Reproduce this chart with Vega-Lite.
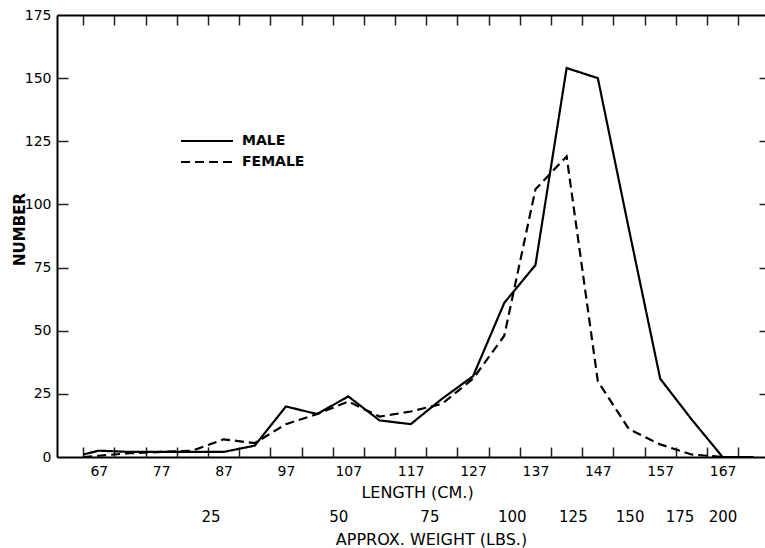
{
  "$schema": "https://vega.github.io/schema/vega-lite/v6.json",
  "autosize": {"type": "none"},
  "padding": {"left": 57, "top": 15, "right": 0, "bottom": 91},
  "width": 708,
  "height": 442,
  "background": "white",
  "config": {
    "view": {"stroke": null},
    "axis": {"grid": false, "labelColor": "black", "titleColor": "black", "tickColor": "black", "domainColor": "black", "labelFont": "DejaVu Sans", "titleFont": "DejaVu Sans"},
    "legend": {"labelColor": "black"}
  },
  "data": {
    "values": [
      {"cm": 64.5, "n": 1, "sex": "MALE"},
      {"cm": 67, "n": 2.5, "sex": "MALE"},
      {"cm": 72, "n": 2, "sex": "MALE"},
      {"cm": 77, "n": 2, "sex": "MALE"},
      {"cm": 82, "n": 2, "sex": "MALE"},
      {"cm": 87, "n": 2, "sex": "MALE"},
      {"cm": 92, "n": 4.5, "sex": "MALE"},
      {"cm": 97, "n": 20, "sex": "MALE"},
      {"cm": 102, "n": 17, "sex": "MALE"},
      {"cm": 107, "n": 24, "sex": "MALE"},
      {"cm": 112, "n": 14.5, "sex": "MALE"},
      {"cm": 117, "n": 13, "sex": "MALE"},
      {"cm": 122, "n": 23, "sex": "MALE"},
      {"cm": 127, "n": 32, "sex": "MALE"},
      {"cm": 132, "n": 61, "sex": "MALE"},
      {"cm": 137, "n": 76, "sex": "MALE"},
      {"cm": 142, "n": 154, "sex": "MALE"},
      {"cm": 147, "n": 150, "sex": "MALE"},
      {"cm": 152, "n": 90, "sex": "MALE"},
      {"cm": 157, "n": 31, "sex": "MALE"},
      {"cm": 162, "n": 15, "sex": "MALE"},
      {"cm": 167, "n": 0, "sex": "MALE"},
      {"cm": 172, "n": 0, "sex": "MALE"},
      {"cm": 64.5, "n": 0, "sex": "FEMALE"},
      {"cm": 67, "n": 0.5, "sex": "FEMALE"},
      {"cm": 72, "n": 1.5, "sex": "FEMALE"},
      {"cm": 77, "n": 2, "sex": "FEMALE"},
      {"cm": 82, "n": 2.5, "sex": "FEMALE"},
      {"cm": 87, "n": 7, "sex": "FEMALE"},
      {"cm": 92, "n": 5.5, "sex": "FEMALE"},
      {"cm": 97, "n": 13, "sex": "FEMALE"},
      {"cm": 102, "n": 17, "sex": "FEMALE"},
      {"cm": 107, "n": 22, "sex": "FEMALE"},
      {"cm": 112, "n": 16, "sex": "FEMALE"},
      {"cm": 117, "n": 18, "sex": "FEMALE"},
      {"cm": 122, "n": 21, "sex": "FEMALE"},
      {"cm": 127, "n": 31, "sex": "FEMALE"},
      {"cm": 132, "n": 48, "sex": "FEMALE"},
      {"cm": 137, "n": 106, "sex": "FEMALE"},
      {"cm": 142, "n": 119, "sex": "FEMALE"},
      {"cm": 147, "n": 30, "sex": "FEMALE"},
      {"cm": 152, "n": 11, "sex": "FEMALE"},
      {"cm": 157, "n": 5, "sex": "FEMALE"},
      {"cm": 162, "n": 1, "sex": "FEMALE"},
      {"cm": 167, "n": 0, "sex": "FEMALE"},
      {"cm": 172, "n": 0, "sex": "FEMALE"}
    ]
  },
  "resolve": {"axis": {"x": "independent", "y": "independent"}},
  "layer": [
    {
      "mark": {"type": "line", "color": "black", "strokeWidth": 2.2},
      "encoding": {
        "x": {"field": "cm", "type": "quantitative",
              "scale": {"domain": [60.3, 173.8], "nice": false, "zero": false},
              "axis": {"orient": "bottom", "values": [67, 77, 87, 97, 107, 117, 127, 137, 147, 157, 167], "ticks": false, "domain": true, "domainWidth": 2, "labelFontSize": 14, "labelPadding": 7, "labelFlush": false, "labelOverlap": false, "title": "LENGTH (CM.)", "titleFontSize": 16, "titleFontWeight": "normal", "titleX": 360, "titleY": 40, "titleBaseline": "alphabetic"}},
        "y": {"field": "n", "type": "quantitative",
              "scale": {"domain": [0, 175], "nice": false},
              "axis": {"orient": "left", "values": [0, 25, 50, 75, 100, 125, 150, 175], "ticks": false, "domain": true, "domainWidth": 2, "labelFontSize": 14, "labelPadding": 6, "labelFlush": false, "labelOverlap": false, "title": "NUMBER", "titleFontSize": 15, "titleFontWeight": "bold", "titleX": -33, "titleY": 214, "titleAngle": 270, "titleBaseline": "alphabetic", "titleAlign": "center"}},
        "strokeDash": {"field": "sex", "type": "nominal",
              "scale": {"domain": ["MALE", "FEMALE"], "range": [[1, 0], [9, 5]]},
              "legend": {"orient": "none", "legendX": 143, "legendY": 119, "title": null, "padding": 0, "symbolType": "M-5,0H5", "symbolSize": 108, "symbolStrokeWidth": 2, "symbolStrokeColor": "black", "symbolFillColor": "transparent", "labelFont": "DejaVu Sans", "labelFontWeight": "bold", "labelFontSize": 14, "labelOffset": 28, "rowPadding": 7}}
      }
    },
    {
      "mark": {"type": "point", "opacity": 0},
      "encoding": {
        "x": {"field": "cm", "type": "quantitative",
              "axis": {"orient": "bottom", "offset": -10, "values": [64.5, 69.5, 74.5, 79.5, 84.5, 89.5, 94.5, 99.5, 104.5, 109.5, 114.5, 119.5, 124.5, 129.5, 134.5, 139.5, 144.5, 149.5, 154.5, 159.5, 164.5, 169.5], "labels": false, "domain": false, "tickSize": 10, "tickWidth": 1.5, "tickColor": "#202020", "title": null}},
        "y": {"field": "n", "type": "quantitative",
              "axis": {"orient": "left", "offset": -11, "values": [25, 50, 75, 100, 125, 150], "labels": false, "domain": false, "tickSize": 11, "tickWidth": 1.5, "tickColor": "#202020", "title": null}}
      }
    },
    {
      "mark": {"type": "point", "opacity": 0},
      "encoding": {
        "x": {"field": "cm", "type": "quantitative",
              "axis": {"orient": "top", "offset": -10, "values": [64.5, 69.5, 74.5, 79.5, 84.5, 89.5, 94.5, 99.5, 104.5, 109.5, 114.5, 119.5, 124.5, 129.5, 134.5, 139.5, 144.5, 149.5, 154.5, 159.5, 164.5, 169.5], "labels": false, "domain": false, "tickSize": 10, "tickWidth": 1.5, "tickColor": "#202020", "title": null}},
        "y": {"field": "n", "type": "quantitative",
              "axis": {"orient": "right", "offset": -6, "values": [25, 50, 75, 100, 125, 150], "labels": false, "domain": false, "tickSize": 6, "tickWidth": 1.5, "tickColor": "#202020", "title": null}}
      }
    },
    {
      "mark": {"type": "point", "opacity": 0},
      "encoding": {
        "x": {"field": "cm", "type": "quantitative",
              "axis": {"orient": "top", "values": [64.5, 69.5, 74.5, 79.5, 84.5, 89.5, 94.5, 99.5, 104.5, 109.5, 114.5, 119.5, 124.5, 129.5, 134.5, 139.5, 144.5, 149.5, 154.5, 159.5, 164.5, 169.5], "labels": false, "domain": true, "domainWidth": 2, "domainColor": "black", "tickSize": 10, "tickOpacity": 0, "title": null}},
        "y": {"field": "n", "type": "quantitative", "axis": null}
      }
    },
    {
      "mark": {"type": "point", "opacity": 0},
      "encoding": {
        "x": {"field": "cm", "type": "quantitative",
              "axis": {"orient": "bottom", "offset": 46, "values": [84.9, 105.4, 120, 133.2, 143, 152.1, 160.1, 167], "labelExpr": "datum.value < 95 ? '25' : datum.value < 112 ? '50' : datum.value < 126 ? '75' : datum.value < 138 ? '100' : datum.value < 147 ? '125' : datum.value < 156 ? '150' : datum.value < 164 ? '175' : '200'", "labelFontSize": 15, "labelPadding": 6, "labelFlush": false, "labelOverlap": false, "domain": false, "ticks": false, "title": "APPROX. WEIGHT (LBS.)", "titleFontSize": 16, "titleFontWeight": "normal", "titleX": 374, "titleY": 41, "titleBaseline": "alphabetic"}},
        "y": {"field": "n", "type": "quantitative", "axis": null}
      }
    }
  ]
}
